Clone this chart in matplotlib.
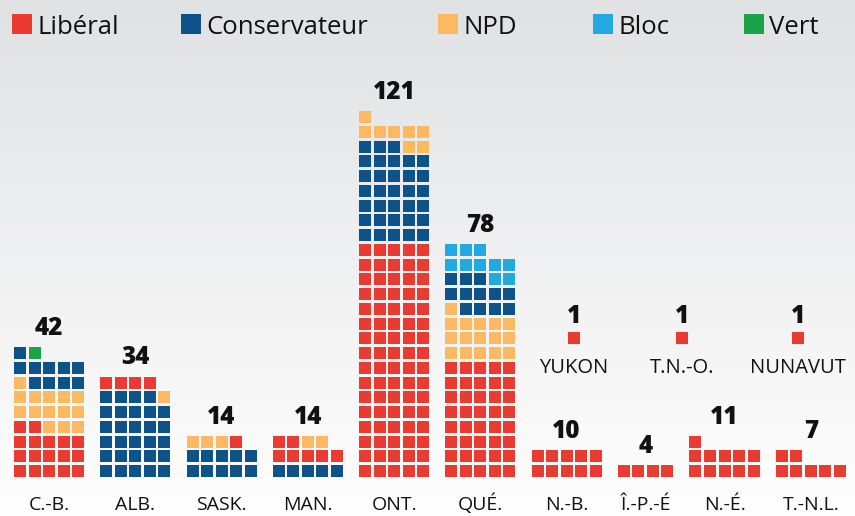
import numpy as np
import matplotlib
matplotlib.use("Agg")
import matplotlib.pyplot as plt
from matplotlib.patches import Rectangle

plt.rcParams["font.family"] = ["Open Sans", "DejaVu Sans"]

# seats per province, stacked bottom-up in the order given by stack_order
provinces = ["C.-B.", "ALB.", "SASK.", "MAN.", "ONT.", "QUÉ.", "N.-B.", "Î.-P.-É", "N.-É.", "T.-N.L."]
liberal = [17, 4, 1, 7, 80, 40, 10, 4, 11, 7]
conservative = [10, 29, 10, 5, 33, 12, 0, 0, 0, 0]
ndp = [14, 1, 3, 2, 8, 16, 0, 0, 0, 0]
bloc = [0, 0, 0, 0, 0, 10, 0, 0, 0, 0]
green = [1, 0, 0, 0, 0, 0, 0, 0, 0, 0]
stack_order = [
    ["lib", "ndp", "con", "green"],
    ["con", "ndp", "lib"],
    ["con", "ndp", "lib"],
    ["con", "lib", "ndp"],
    ["lib", "con", "ndp"],
    ["lib", "ndp", "con", "bloc"],
    ["lib"], ["lib"], ["lib"], ["lib"],
]

territories = ["YUKON", "T.N.-O.", "NUNAVUT"]
territory_liberal = [1, 1, 1]

party_names = ["Libéral", "Conservateur", "NPD", "Bloc", "Vert"]
party_keys = ["lib", "con", "ndp", "bloc", "green"]
colors = {
    "lib": "#e93b32",
    "con": "#0d5289",
    "ndp": "#fdb961",
    "bloc": "#23a9e1",
    "green": "#1ba34a",
}

# layout (pixel units, y grows downward)
W, H = 855, 516
pitch_x, pitch_y, sq = 14.55, 14.75, 12.0
ncols_max = 5
group_gap = 13.5
x_start = 14.0
base_bottom = 477.0
territory_centers = [574, 682, 798]
territory_bottom = 344.0
legend_x = [12, 181, 438, 593, 744]

seats = {"lib": liberal, "con": conservative, "ndp": ndp, "bloc": bloc, "green": green}

fig = plt.figure(figsize=(W / 100, H / 100), dpi=100)
ax = fig.add_axes([0, 0, 1, 1])
ax.set_xlim(0, W)
ax.set_ylim(H, 0)
ax.axis("off")

# background gradient
grad = np.linspace(0, 1, 256)[:, None]
top_c = np.array([225, 226, 228]) / 255
bot_c = np.array([254, 254, 254]) / 255
bg = top_c + (bot_c - top_c) * grad[..., None]
bg = np.repeat(bg, 2, axis=1)
ax.imshow(bg, extent=(0, W, H, 0), aspect="auto", zorder=0)


def draw_waffle(x_left, bottom, cells):
    n = len(cells)
    ncols = min(ncols_max, n)
    for k, key in enumerate(cells):
        r, c = divmod(k, ncols)
        ax.add_patch(Rectangle((x_left + c * pitch_x, bottom - r * pitch_y - sq), sq, sq,
                               facecolor=colors[key], edgecolor="none", zorder=2))
    nrows = (n + ncols - 1) // ncols
    top = bottom - (nrows - 1) * pitch_y - sq
    width = (ncols - 1) * pitch_x + sq
    return x_left + width / 2, top, ncols


x_left = x_start
for i, name in enumerate(provinces):
    cells = []
    for key in stack_order[i]:
        cells += [key] * seats[key][i]
    cx, top, ncols = draw_waffle(x_left, base_bottom, cells)
    ax.text(cx, top - 12, str(len(cells)), ha="center", va="baseline",
            fontsize=17.5, fontweight="heavy", color="#111111", zorder=3)
    ax.text(cx, 510, name, ha="center", va="baseline", fontsize=14, color="#111111", zorder=3)
    x_left += ncols * pitch_x + group_gap

for name, n, cx in zip(territories, territory_liberal, territory_centers):
    cells = ["lib"] * n
    _, top, _ = draw_waffle(cx - sq / 2, territory_bottom, cells)
    ax.text(cx, top - 9, str(n), ha="center", va="baseline",
            fontsize=17.5, fontweight="heavy", color="#111111", zorder=3)
    ax.text(cx, 373, name, ha="center", va="baseline", fontsize=14.5, color="#111111", zorder=3)

# legend
for lx, key, label in zip(legend_x, party_keys, party_names):
    ax.add_patch(Rectangle((lx, 14), 20, 20, facecolor=colors[key], edgecolor="none", zorder=2))
    ax.text(lx + 25, 34, label, ha="left", va="baseline", fontsize=18.5, color="#111111", zorder=3)

fig.savefig("out.png", dpi=100)
